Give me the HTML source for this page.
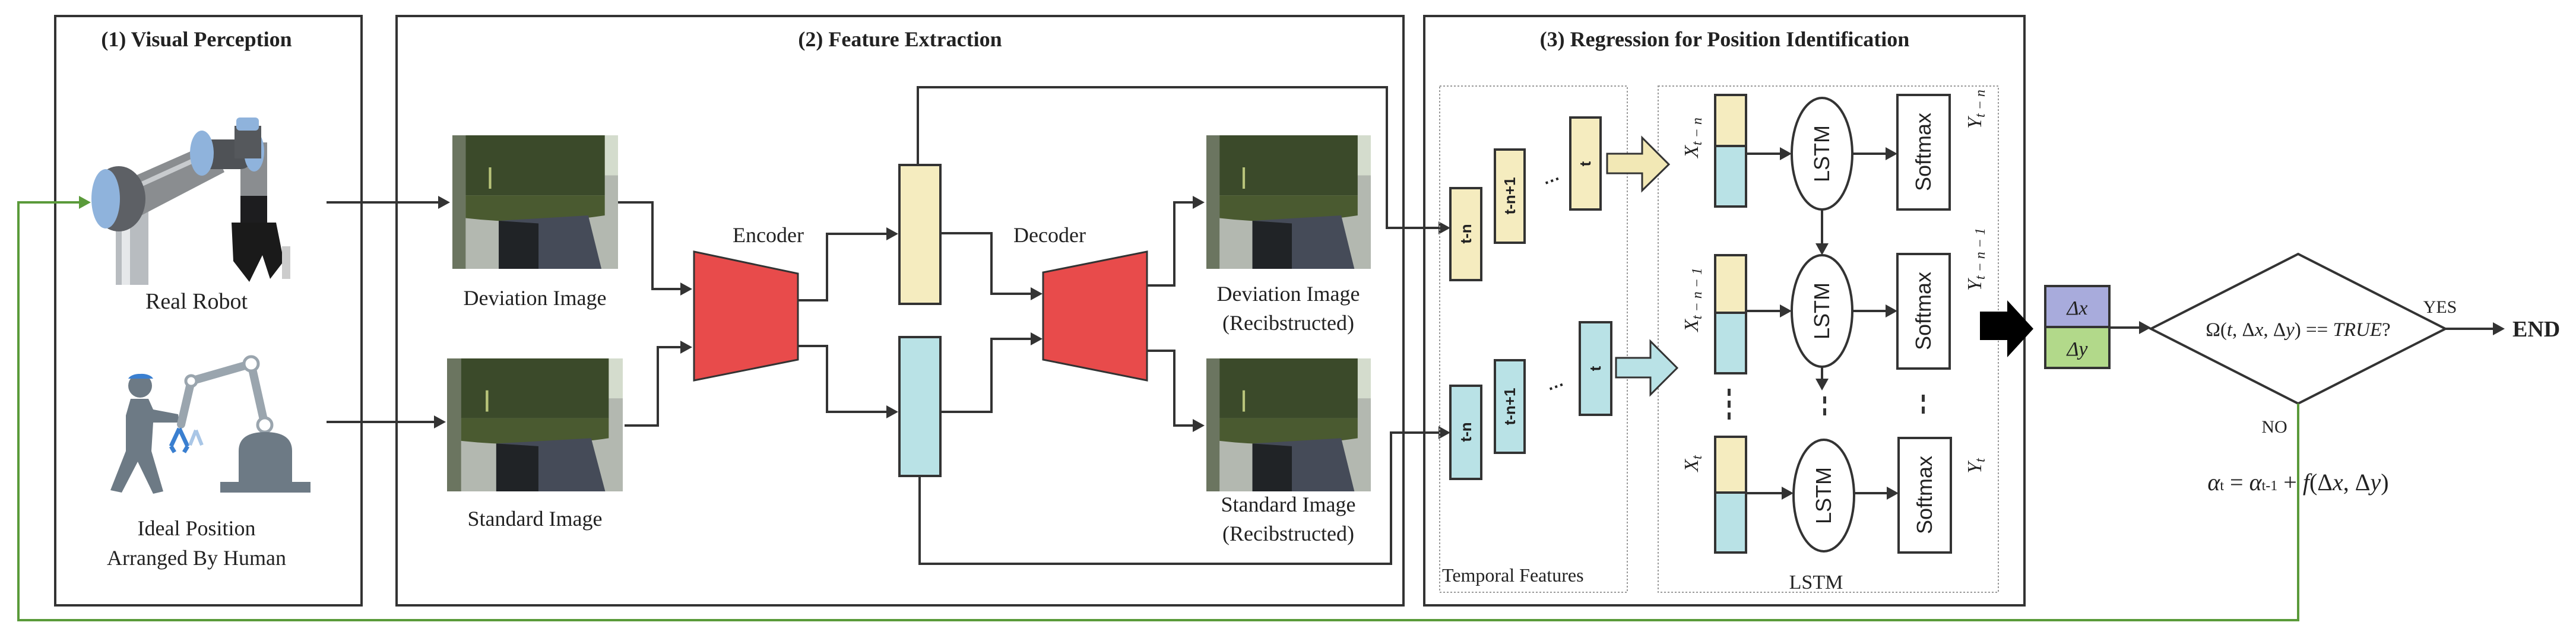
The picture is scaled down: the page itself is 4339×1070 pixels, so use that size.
<!DOCTYPE html>
<html><head><meta charset="utf-8"><style>
html,body{margin:0;padding:0;background:#fff;}
svg{display:block;}
.t{font-family:"Liberation Serif",serif;fill:#222;}
.s{font-family:"Liberation Sans",sans-serif;fill:#222;}
</style></head><body>
<svg width="4339" height="1070" viewBox="0 0 4339 1070" xmlns="http://www.w3.org/2000/svg">
<defs>
<symbol id="photo" viewBox="0 0 100 100" preserveAspectRatio="none">
<rect x="0" y="0" width="100" height="100" fill="#b3b8b0"/>
<rect x="92" y="0" width="8" height="30" fill="#d4dccd"/>
<rect x="0" y="0" width="8" height="100" fill="#6b7560"/>
<rect x="8" y="0" width="84" height="45" fill="#3b4a2a"/>
<path d="M8 45 L92 45 L92 60 Q50 68 8 62 Z" fill="#4a5a30"/>
<path d="M28 64 L82 60 L90 100 L28 100 Z" fill="#454b58"/>
<path d="M28 64 L52 66 L52 100 L28 100 Z" fill="#202326"/>
<rect x="22" y="24" width="1.5" height="16" fill="#b8c47a"/>
</symbol>
</defs>

<rect x="93" y="27" width="516" height="993" fill="none" stroke="#333" stroke-width="4"/>
<rect x="668" y="27" width="1696" height="993" fill="none" stroke="#333" stroke-width="4"/>
<rect x="2399" y="27" width="1011" height="993" fill="none" stroke="#333" stroke-width="4"/>
<text class="t" x="331" y="78" font-size="36" font-weight="bold" text-anchor="middle">(1) Visual Perception</text>
<text class="t" x="1516" y="78" font-size="36" font-weight="bold" text-anchor="middle">(2)  Feature Extraction</text>
<text class="t" x="2905" y="78" font-size="36" font-weight="bold" text-anchor="middle">(3) Regression for Position Identification</text>

<!-- robot -->
<g>
<rect x="195" y="345" width="55" height="135" fill="#b8bcc0"/>
<rect x="205" y="345" width="14" height="135" fill="#e6e8ea"/>
<path d="M185 315 L355 240 L378 290 L215 375 Z" fill="#8a8d90"/>
<path d="M195 330 L360 255" stroke="#c8cbce" stroke-width="8"/>
<ellipse cx="200" cy="335" rx="45" ry="55" fill="#5d6065"/>
<ellipse cx="178" cy="335" rx="24" ry="50" fill="#8fb3dc"/>
<rect x="405" y="240" width="45" height="100" fill="#8a8d90"/>
<rect x="335" y="235" width="90" height="50" rx="20" fill="#4f5256"/>
<ellipse cx="340" cy="258" rx="20" ry="38" fill="#8fb3dc"/>
<ellipse cx="428" cy="255" rx="17" ry="34" fill="#8fb3dc"/>
<rect x="395" y="212" width="45" height="55" fill="#55585c"/>
<rect x="398" y="198" width="38" height="22" rx="6" fill="#8fb3dc"/>
<rect x="405" y="330" width="45" height="50" fill="#1d1d1f"/>
<path d="M390 375 L465 375 L478 440 L455 470 L442 430 L420 475 L393 440 Z" fill="#1a1a1a"/>
<rect x="475" y="415" width="14" height="55" fill="#ccc"/>
</g>
<text class="t" x="331" y="520" font-size="38" text-anchor="middle">Real Robot</text>

<!-- human + robot icon -->
<g fill="#6d7a85">
<circle cx="236" cy="650" r="20"/>
<path d="M236 630 a20 12 0 0 1 22 8 l-42 0 a20 12 0 0 1 20 -8z" fill="#3a7fd0"/>
<path d="M220 672 L250 672 L258 690 L300 698 L302 712 L258 712 L255 760 L275 828 L258 832 L232 778 L205 830 L186 826 L212 760 L212 700 Z"/>
<g fill="none" stroke="#9aa5ae" stroke-width="14" stroke-linecap="round">
<path d="M322 642 L423 613 L446 716"/>
<path d="M322 642 L305 715"/>
</g>
<circle cx="423" cy="613" r="12" fill="#fff" stroke="#9aa5ae" stroke-width="5"/>
<circle cx="446" cy="716" r="12" fill="#fff" stroke="#9aa5ae" stroke-width="5"/>
<circle cx="322" cy="642" r="9" fill="#fff" stroke="#9aa5ae" stroke-width="5"/>
<path d="M402 812 L402 760 Q402 728 447 728 Q492 728 492 760 L492 812 L523 812 L523 830 L371 830 L371 812 Z"/>
<path d="M302 722 l-14 30 M302 722 l14 30 M288 752 l6 10 M316 752 l-6 10" stroke="#3a7fd0" stroke-width="7" fill="none"/>
<path d="M330 725 l-10 25 M330 725 l10 25" stroke="#a9c6e6" stroke-width="6" fill="none"/>
</g>
<text class="t" x="331" y="902" font-size="36" text-anchor="middle">Ideal Position</text>
<text class="t" x="331" y="952" font-size="36" text-anchor="middle">Arranged By Human</text>

<use href="#photo" x="762" y="228" width="279" height="225"/>
<use href="#photo" x="753" y="604" width="296" height="224"/>
<text class="t" x="901" y="514" font-size="36" text-anchor="middle">Deviation Image</text>
<text class="t" x="901" y="886" font-size="36" text-anchor="middle">Standard Image</text>

<g stroke="#333" stroke-width="4" fill="none">
<line x1="550" y1="341" x2="740" y2="341"/>
<line x1="550" y1="711" x2="733" y2="711"/>
<polyline points="1041,341 1099,341 1099,487 1148,487"/>
<polyline points="1052,717 1108,717 1108,585 1148,585"/>
<polyline points="1344,506 1393,506 1393,394 1495,394"/>
<polyline points="1344,583 1393,583 1393,694 1495,694"/>
<polyline points="1584,393 1670,393 1670,495 1738,495"/>
<polyline points="1584,694 1670,694 1670,571 1738,571"/>
<polyline points="1932,481 1978,481 1978,341 2011,341"/>
<polyline points="1932,591 1978,591 1978,717 2011,717"/>
<polyline points="1546,278 1546,147 2336,147 2336,384 2425,384"/>
<polyline points="1549,802 1549,950 2343,950 2343,729 2425,729"/>
</g>
<g fill="#333">
<polygon points="758,341 738,330 738,352"/>
<polygon points="751,711 731,700 731,722"/>
<polygon points="1166,487 1146,476 1146,498"/>
<polygon points="1166,585 1146,574 1146,596"/>
<polygon points="1513,394 1493,383 1493,405"/>
<polygon points="1513,694 1493,683 1493,705"/>
<polygon points="1756,495 1736,484 1736,506"/>
<polygon points="1756,571 1736,560 1736,582"/>
<polygon points="2029,341 2009,330 2009,352"/>
<polygon points="2029,717 2009,706 2009,728"/>
<polygon points="2443,384 2423,373 2423,395"/>
<polygon points="2443,729 2423,718 2423,740"/>
</g>

<polygon points="1169,424 1344,461 1344,606 1169,641" fill="#e84b4b" stroke="#333" stroke-width="3"/>
<polygon points="1757,459 1932,424 1932,641 1757,606" fill="#e84b4b" stroke="#333" stroke-width="3"/>
<text class="t" x="1294" y="408" font-size="36" text-anchor="middle">Encoder</text>
<text class="t" x="1768" y="408" font-size="36" text-anchor="middle">Decoder</text>
<rect x="1515" y="278" width="69" height="234" fill="#f5ecbf" stroke="#333" stroke-width="4"/>
<rect x="1515" y="568" width="69" height="234" fill="#b9e2e6" stroke="#333" stroke-width="4"/>

<use href="#photo" x="2032" y="228" width="277" height="225"/>
<use href="#photo" x="2032" y="604" width="277" height="224"/>
<text class="t" x="2170" y="507" font-size="36" text-anchor="middle">Deviation Image</text>
<text class="t" x="2170" y="556" font-size="36" text-anchor="middle">(Recibstructed)</text>
<text class="t" x="2170" y="862" font-size="36" text-anchor="middle">Standard Image</text>
<text class="t" x="2170" y="911" font-size="36" text-anchor="middle">(Recibstructed)</text>

<rect x="2425" y="145" width="316" height="853" fill="none" stroke="#999" stroke-width="2" stroke-dasharray="3,3"/>
<rect x="2793" y="145" width="573" height="853" fill="none" stroke="#999" stroke-width="2" stroke-dasharray="3,3"/>
<text class="t" x="2429" y="980" font-size="32">Temporal Features</text>
<text class="t" x="3059" y="992" font-size="34" text-anchor="middle">LSTM</text>

<g stroke="#333" stroke-width="4">
<rect x="2443" y="317" width="52" height="155" fill="#f5ecbf"/>
<rect x="2518" y="252" width="50" height="157" fill="#f5ecbf"/>
<rect x="2645" y="198" width="51" height="155" fill="#f5ecbf"/>
<rect x="2443" y="650" width="52" height="157" fill="#b9e2e6"/>
<rect x="2518" y="607" width="50" height="156" fill="#b9e2e6"/>
<rect x="2661" y="543" width="53" height="156" fill="#b9e2e6"/>
</g>
<g class="s" font-size="26" font-weight="bold" text-anchor="middle">
<text transform="translate(2478,394) rotate(-90)">t-n</text>
<text transform="translate(2552,330) rotate(-90)">t-n+1</text>
<text transform="translate(2679,276) rotate(-90)">t</text>
<text transform="translate(2478,728) rotate(-90)">t-n</text>
<text transform="translate(2552,685) rotate(-90)">t-n+1</text>
<text transform="translate(2696,621) rotate(-90)">t</text>
</g>
<text class="s" x="2605" y="318" font-size="28" font-weight="bold" transform="rotate(-20 2605 318)">···</text>
<text class="s" x="2612" y="665" font-size="28" font-weight="bold" transform="rotate(-20 2612 665)">···</text>
<polygon points="2707,259 2766,259 2766,232 2811,277 2766,321 2766,292 2707,292" fill="#f2e8b5" stroke="#333" stroke-width="3"/>
<polygon points="2722,603 2780,603 2780,575 2825,620 2780,665 2780,636 2722,636" fill="#b9e2e6" stroke="#333" stroke-width="3"/>

<g stroke="#333" stroke-width="4">
<rect x="2889" y="160" width="52" height="86" fill="#f5ecbf"/>
<rect x="2889" y="246" width="52" height="102" fill="#b9e2e6"/>
<rect x="2889" y="430" width="52" height="97" fill="#f5ecbf"/>
<rect x="2889" y="527" width="52" height="102" fill="#b9e2e6"/>
<rect x="2889" y="736" width="52" height="94" fill="#f5ecbf"/>
<rect x="2889" y="830" width="52" height="101" fill="#b9e2e6"/>
<ellipse cx="3069" cy="259" rx="51" ry="94" fill="#fff"/>
<ellipse cx="3069" cy="524" rx="51" ry="94" fill="#fff"/>
<ellipse cx="3072" cy="835" rx="51" ry="94" fill="#fff"/>
<rect x="3196" y="160" width="88" height="193" fill="#fff"/>
<rect x="3196" y="428" width="88" height="193" fill="#fff"/>
<rect x="3198" y="738" width="88" height="193" fill="#fff"/>
<line x1="2941" y1="259" x2="3000" y2="259"/>
<line x1="3121" y1="259" x2="3178" y2="259"/>
<line x1="2941" y1="524" x2="3000" y2="524"/>
<line x1="3121" y1="524" x2="3178" y2="524"/>
<line x1="2941" y1="831" x2="3003" y2="831"/>
<line x1="3124" y1="831" x2="3180" y2="831"/>
<line x1="3069" y1="353" x2="3069" y2="412"/>
<line x1="3069" y1="618" x2="3069" y2="640"/>
</g>
<g fill="#333">
<polygon points="3018,259 2998,248 2998,270"/>
<polygon points="3196,259 3176,248 3176,270"/>
<polygon points="3018,524 2998,513 2998,535"/>
<polygon points="3196,524 3176,513 3176,535"/>
<polygon points="3021,831 3001,820 3001,842"/>
<polygon points="3198,831 3178,820 3178,842"/>
<polygon points="3069,430 3058,410 3080,410"/>
<polygon points="3069,658 3058,638 3080,638"/>
<rect x="2910" y="655" width="5" height="12"/><rect x="2910" y="675" width="5" height="12"/><rect x="2910" y="695" width="5" height="12"/>
<rect x="3071" y="668" width="5" height="12"/><rect x="3071" y="688" width="5" height="12"/>
<rect x="3237" y="665" width="5" height="12"/><rect x="3237" y="685" width="5" height="12"/>
</g>
<g class="s" font-size="36" text-anchor="middle">
<text transform="translate(3081,259) rotate(-90)">LSTM</text>
<text transform="translate(3081,524) rotate(-90)">LSTM</text>
<text transform="translate(3084,835) rotate(-90)">LSTM</text>
<text transform="translate(3252,256) rotate(-90)">Softmax</text>
<text transform="translate(3252,524) rotate(-90)">Softmax</text>
<text transform="translate(3254,834) rotate(-90)">Softmax</text>
</g>
<g class="t" font-size="34" font-style="italic" text-anchor="middle">
<text transform="translate(2860,232) rotate(-90)">X<tspan font-size="24" dy="6">t − n</tspan></text>
<text transform="translate(3337,184) rotate(-90)">Y<tspan font-size="24" dy="6">t − n</tspan></text>
<text transform="translate(2860,505) rotate(-90)">X<tspan font-size="24" dy="6">t − n − 1</tspan></text>
<text transform="translate(3337,437) rotate(-90)">Y<tspan font-size="24" dy="6">t − n − 1</tspan></text>
<text transform="translate(2860,781) rotate(-90)">X<tspan font-size="24" dy="6">t</tspan></text>
<text transform="translate(3337,785) rotate(-90)">Y<tspan font-size="24" dy="6">t</tspan></text>
</g>

<polygon points="3335,525 3381,525 3381,506 3425,554 3381,602 3381,573 3335,573" fill="#000"/>
<rect x="3445" y="482" width="108" height="69" fill="#a8abdc" stroke="#333" stroke-width="4"/>
<rect x="3445" y="551" width="108" height="69" fill="#b2d98a" stroke="#333" stroke-width="4"/>
<text class="t" x="3499" y="530" font-size="34" font-style="italic" text-anchor="middle">Δx</text>
<text class="t" x="3499" y="599" font-size="34" font-style="italic" text-anchor="middle">Δy</text>
<line x1="3553" y1="552" x2="3605" y2="552" stroke="#333" stroke-width="4"/>
<polygon points="3623,552 3603,541 3603,563" fill="#333"/>
<polygon points="3623,554 3871,428 4119,554 3871,680" fill="#fff" stroke="#333" stroke-width="4"/>
<text class="t" x="3871" y="566" font-size="33" text-anchor="middle">Ω(<tspan font-style="italic">t</tspan>, Δ<tspan font-style="italic">x</tspan>, Δ<tspan font-style="italic">y</tspan>) == <tspan font-style="italic">TRUE</tspan>?</text>
<text class="t" x="4110" y="527" font-size="30" text-anchor="middle">YES</text>
<line x1="4119" y1="554" x2="4200" y2="554" stroke="#333" stroke-width="4"/>
<polygon points="4219,554 4199,543 4199,565" fill="#333"/>
<text class="t" x="4232" y="567" font-size="38" font-weight="bold">END</text>
<text class="t" x="3831" y="729" font-size="30" text-anchor="middle">NO</text>
<text class="t" x="3871" y="826" font-size="40" text-anchor="middle"><tspan font-style="italic">α</tspan><tspan font-size="24">t</tspan> = <tspan font-style="italic">α</tspan><tspan font-size="24">t-1</tspan> + <tspan font-style="italic">f</tspan>(Δ<tspan font-style="italic">x</tspan>, Δ<tspan font-style="italic">y</tspan>)</text>

<polyline points="3871,680 3871,1045 31,1045 31,341 135,341" fill="none" stroke="#5a9a3a" stroke-width="4"/>
<polygon points="153,341 133,330 133,352" fill="#5a9a3a"/>
</svg>
</body></html>
